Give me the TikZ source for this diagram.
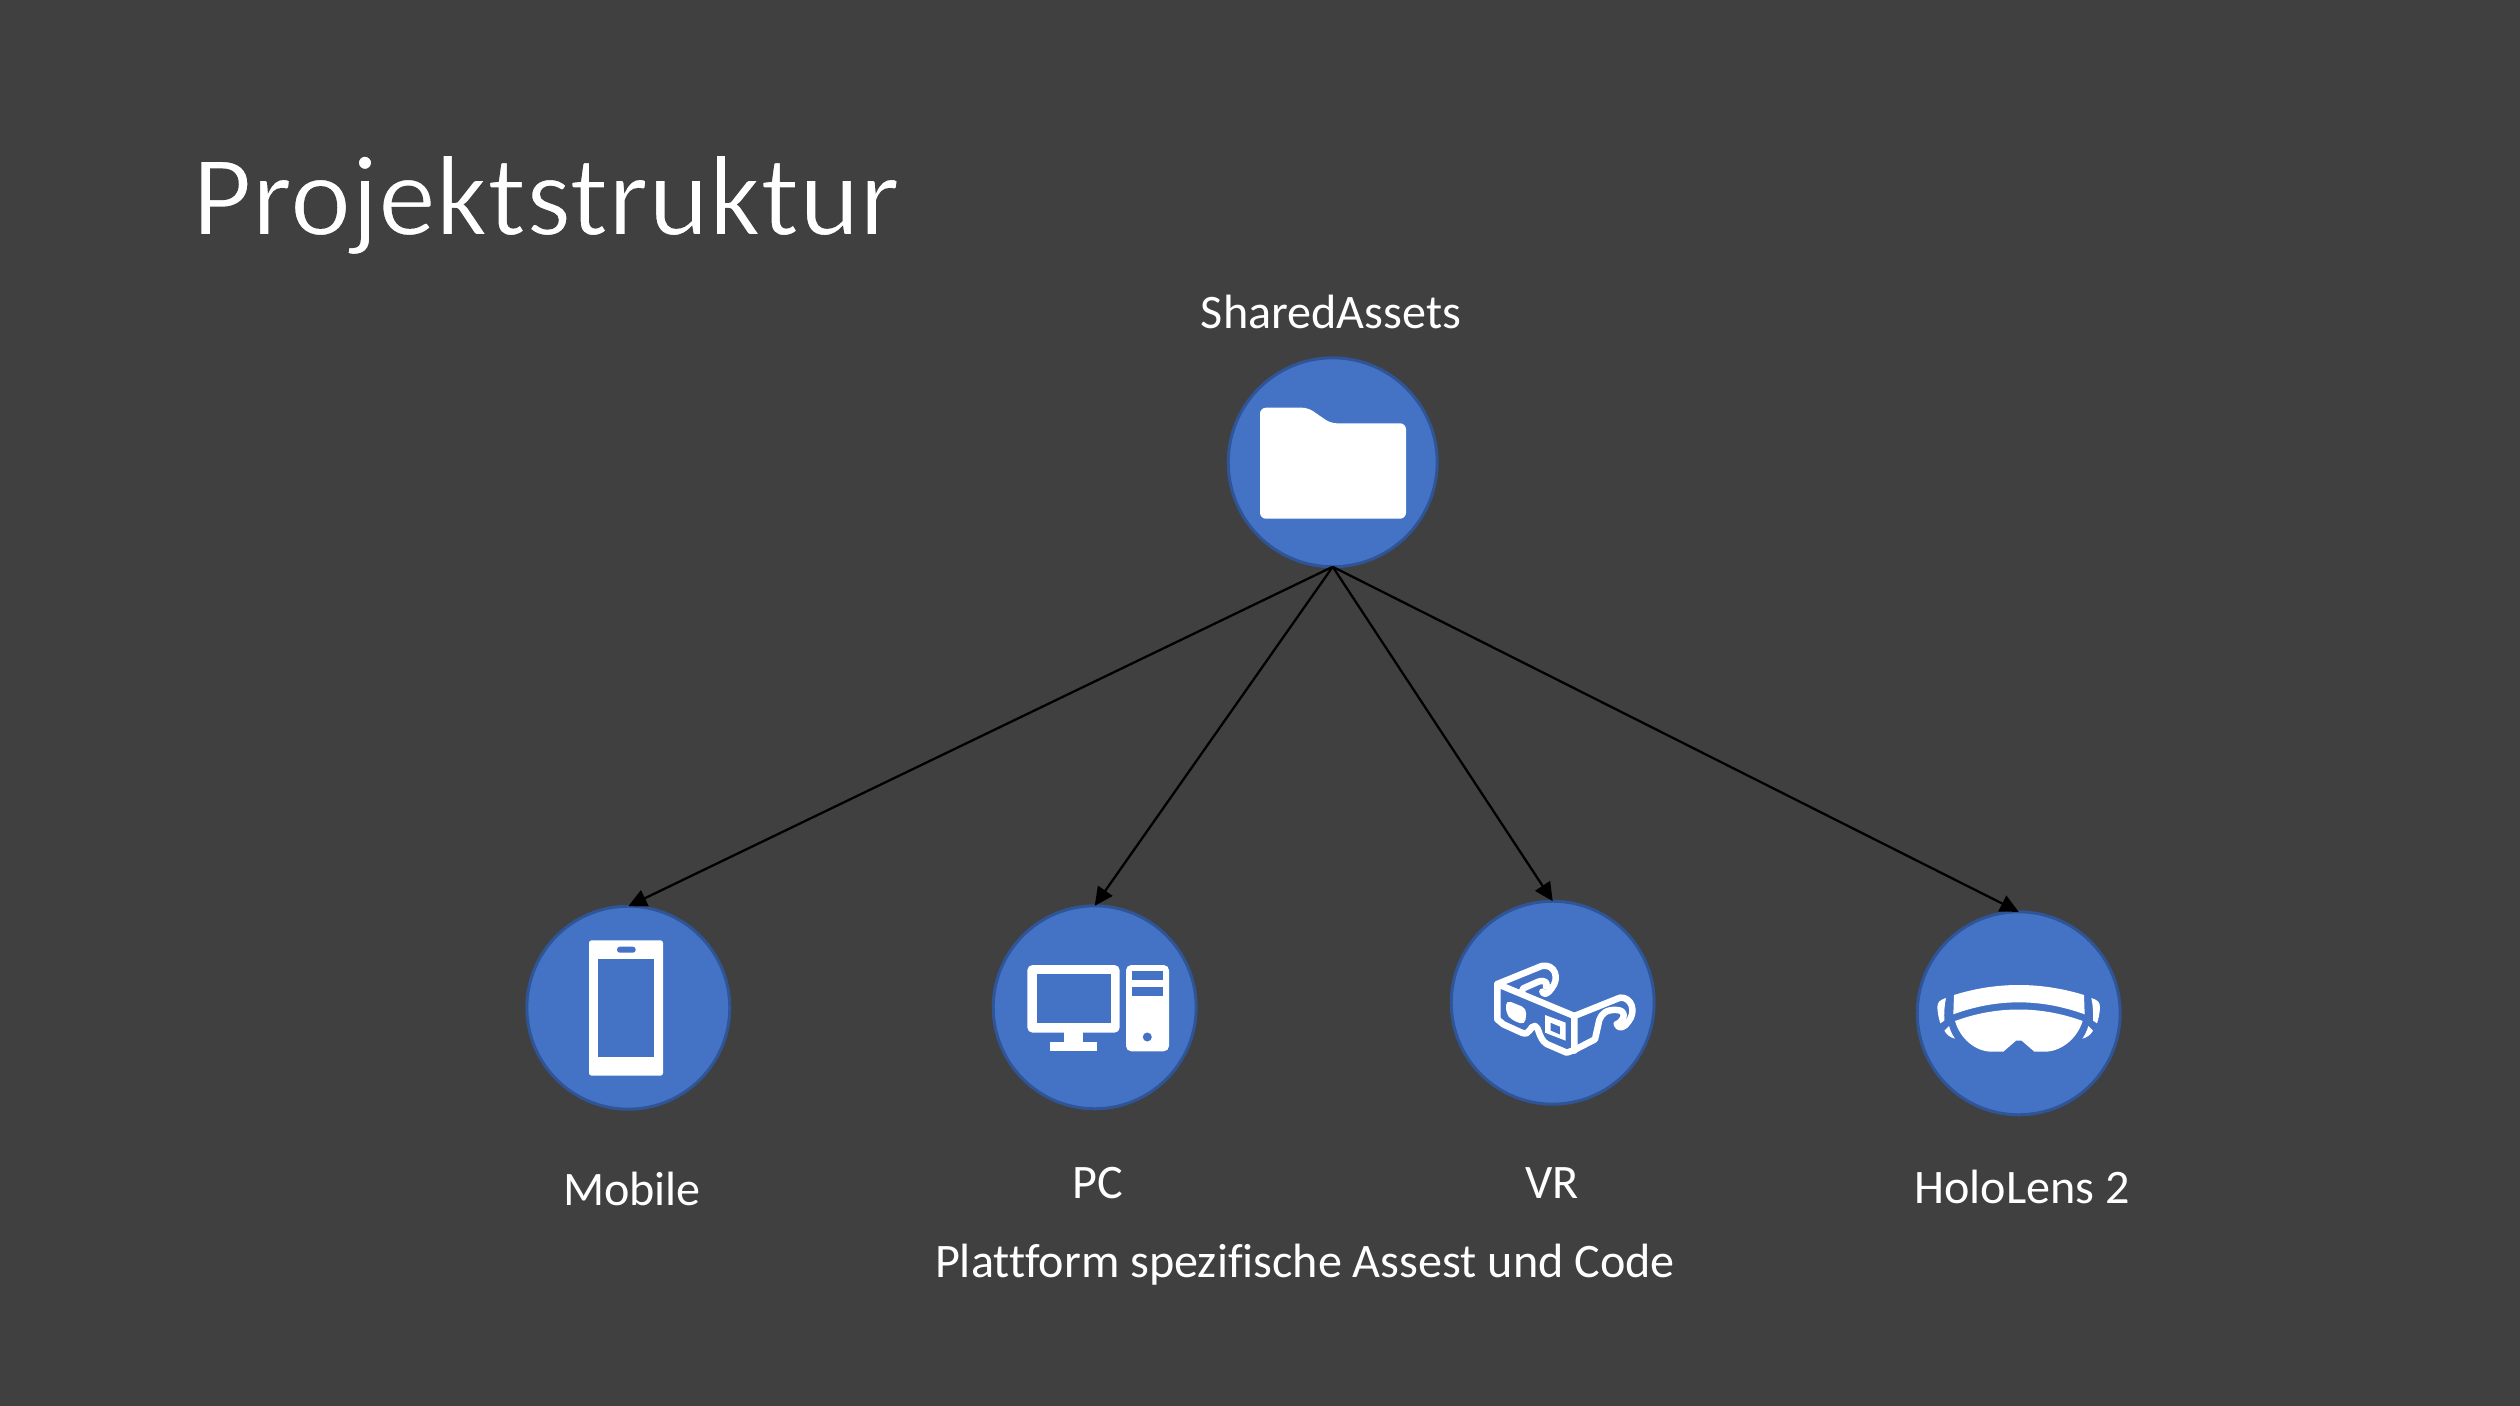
\documentclass[tikz,border=0pt]{standalone}
\usepackage{fontspec}
\setmainfont[Ligatures=NoCommon]{Carlito}
\usetikzlibrary{arrows.meta}
\definecolor{bgc}{HTML}{404040}
\definecolor{disc}{HTML}{4472C4}
\definecolor{discline}{HTML}{2F5597}
\tikzset{
  discnode/.style={circle,fill=disc,draw=discline,line width=1.7pt,minimum size=4.06cm,inner sep=0pt,outer sep=0pt},
  bigdisc/.style={discnode,minimum size=4.18cm},
  lbl/.style={text=white,font=\fontsize{27.4}{30}\selectfont,anchor=base,inner sep=0pt},
  titlelbl/.style={text=white,font=\fontsize{65.5}{70}\selectfont,anchor=base west,inner sep=0pt},
  conn/.style={black,line width=1.3pt,-{Triangle[length=10.5pt,width=10pt]}},
  iconfill/.style={fill=white,draw=none,even odd rule},
  iconline/.style={draw=white,line width=3.7pt,line join=round,line cap=round,fill=none}
}
\begin{document}
\begin{tikzpicture}[x=0.02cm,y=-0.02cm]
\useasboundingbox (0,0) rectangle (2520,1406);
\fill[bgc] (0,0) rectangle (2520,1406);

\node[titlelbl] (title) at (192,235) {\special{pdf:code q 2 Tr 0.9 w 0.25 0.25 0.25 RG}Projektstruktur\special{pdf:code Q}};

\node[bigdisc] (shared) at (1332.7,462.3) {};
\node[discnode] (mobile) at (628.3,1007.7) {};
\node[discnode] (pc) at (1094.7,1007.3) {};
\node[discnode] (vr) at (1552.7,1002.7) {};
\node[discnode] (holo) at (2018.7,1013.3) {};

\draw[conn] (shared.south) -- (mobile.north);
\draw[conn] (shared.south) -- (pc.north);
\draw[conn] (shared.south) -- (vr.north);
\draw[conn] (shared.south) -- (holo.north);

\node[lbl] (tshared) at (1331,328) {SharedAssets};
\node[lbl] (tmobile) at (632,1205) {Mobile};
\node[lbl] (tpc) at (1098,1198.5) {PC};
\node[lbl] (tvr) at (1552,1198.5) {VR};
\node[lbl] (tholo) at (2022,1203) {HoloLens 2};
\node[lbl] (tplat) at (1305,1277) {Plattform spezifische Assest und Code};

% folder
\fill[iconfill,rounded corners=3.4pt] (1260,407.7) -- (1308,407.7) -- (1330.7,423.3) -- (1406,423.3) -- (1406,518.7) -- (1260,518.7) -- cycle;

% phone
\fill[iconfill,rounded corners=1.5pt] (589,940.3) rectangle (663,1075.7);
\fill[disc] (598.3,959) rectangle (654,1057.3);
\fill[disc,rounded corners=1.6pt] (617,946.7) rectangle (635.7,952.7);

% pc
\fill[iconfill,rounded corners=3pt] (1027.3,965) rectangle (1119.7,1032.7);
\fill[disc] (1036.7,974.3) rectangle (1110.7,1023.3);
\fill[iconfill] (1064.3,1030) rectangle (1082.7,1044);
\fill[iconfill] (1050.3,1042) rectangle (1096.7,1051.3);
\fill[iconfill,rounded corners=3pt] (1126,965) rectangle (1169,1051.3);
\fill[disc] (1132,971.3) rectangle (1163,980.3);
\fill[disc] (1132,986.7) rectangle (1163,995.7);
\fill[disc] (1147.3,1037) circle[radius=4.5];

% 3D glasses
\begin{scope}[shift={(1440,890)},x=0.00667cm,y=-0.00667cm]
\draw[iconline] (172,388) -- (172,282) -- (403,378) -- (403,482);
\draw[iconline] (172,388) -- (190,403) -- (245,428) .. controls (270,440) and (270,405) .. (285,408) .. controls (298,412) and (295,445) .. (320,462) -- (380,488) -- (403,480);
\draw[iconline] (172,282) -- (305,228) .. controls (345,220) and (360,265) .. (335,295) .. controls (325,310) and (312,318) .. (307,305);
\draw[iconline] (245,305) -- (250,295) -- (295,275) .. controls (315,268) and (325,280) .. (318,290);
\draw[iconline] (403,378) -- (540,323) .. controls (575,320) and (590,365) .. (565,395) .. controls (555,412) and (535,420) .. (530,402);
\draw[iconline] (532,402) .. controls (555,390) and (560,360) .. (530,360) .. controls (500,358) and (485,370) .. (478,390) -- (465,448) -- (403,480);
\fill[iconfill,rounded corners=3pt] (198,330) -- (260,355) -- (255,405) -- (215,390) -- (198,370) -- cycle;
\fill[iconfill] (315,375) -- (377,398) -- (377,452) -- (315,428) -- cycle (332,398) -- (360,410) -- (360,434) -- (332,422) -- cycle;
\end{scope}

% hololens
\begin{scope}[shift={(1900,890)},x=0.00667cm,y=-0.00667cm]
\fill[iconfill] (162,315) .. controls (290,275) and (422,275) .. (552,315) -- (554,373) .. controls (422,325) and (290,325) .. (160,373) -- cycle;
\fill[iconfill] (165,393) .. controls (290,347) and (422,347) .. (548,393) .. controls (530,450) and (480,485) .. (435,485) -- (403,485) -- (365,452) -- (348,452) -- (310,485) -- (275,485) .. controls (225,485) and (180,445) .. (165,393) -- cycle;
\fill[iconfill] (138,324) .. controls (120,330) and (112,335) .. (112,352) .. controls (113,370) and (116,385) .. (121,400) -- (133,392) .. controls (132,370) and (133,345) .. (138,324) -- cycle;
\fill[iconfill] (574,324) .. controls (592,330) and (600,335) .. (600,352) .. controls (599,370) and (596,385) .. (591,400) -- (579,392) .. controls (580,370) and (579,345) .. (574,324) -- cycle;
\fill[iconfill] (147,408) -- (133,422) .. controls (140,435) and (152,443) .. (165,446) .. controls (157,435) and (151,422) .. (147,408) -- cycle;
\fill[iconfill] (565,408) -- (579,422) .. controls (572,435) and (560,443) .. (547,446) .. controls (555,435) and (561,422) .. (565,408) -- cycle;
\end{scope}
\end{tikzpicture}
\end{document}
